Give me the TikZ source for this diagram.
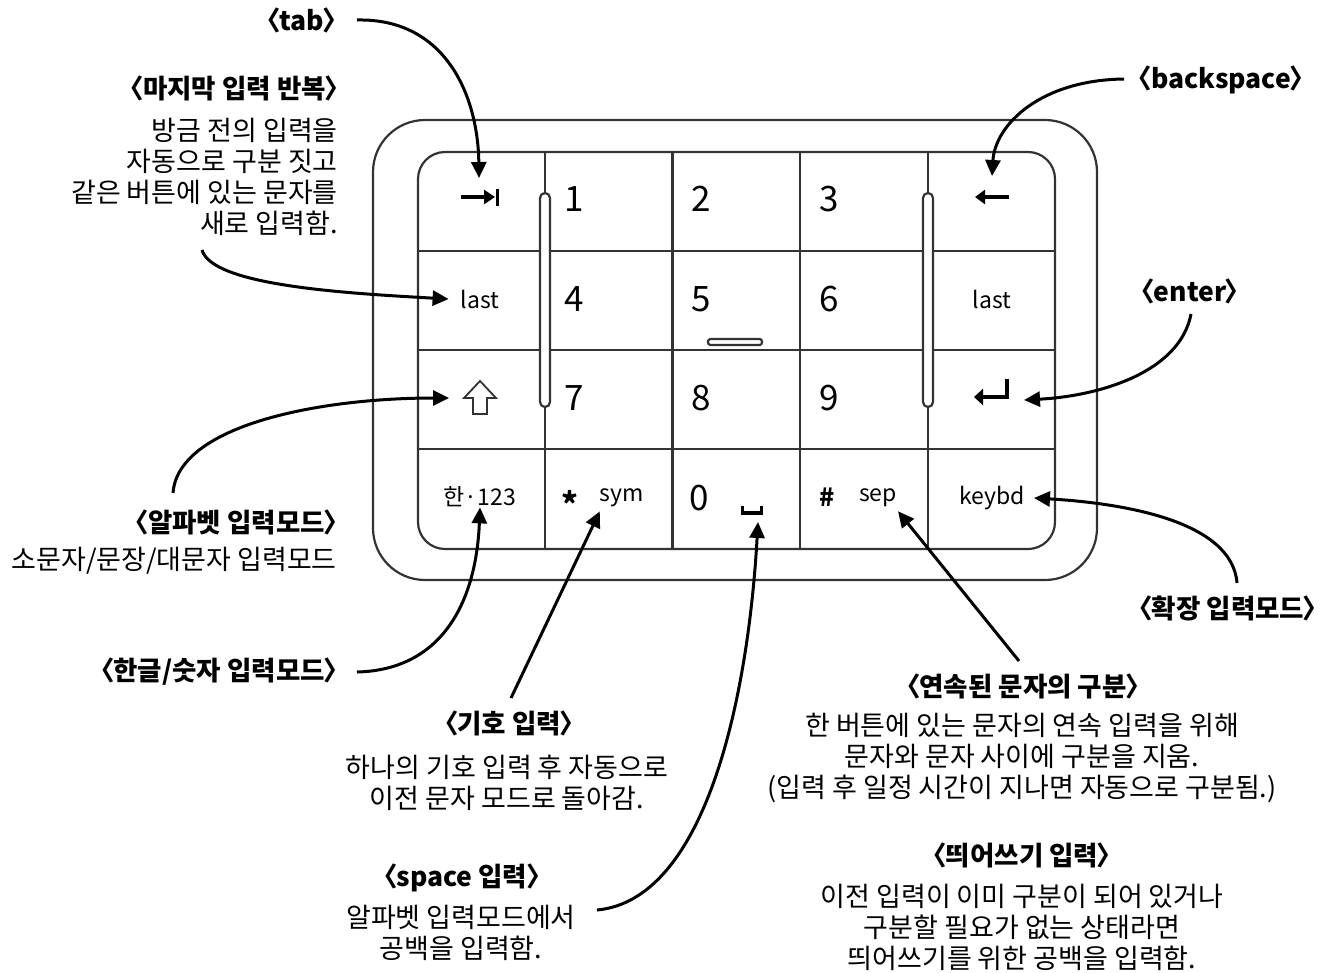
\documentclass[tikz,border=0pt]{standalone}
\usepackage{fontspec}
\setmainfont{Noto Sans CJK KR}
\usepackage{xcolor}
\definecolor{kbFrame}{HTML}{333333}
\usepackage{tikz}
\usetikzlibrary{arrows.meta}
\tikzset{frame/.style={draw=kbFrame, line width=2.2pt}}
\tikzset{capsule/.style={frame, fill=white, rounded corners=5pt}}
\tikzset{digit/.style={font=\fontsize{35}{35}\selectfont, anchor=west, inner sep=0pt}}
\tikzset{keyname/.style={font=\fontsize{23}{23}\selectfont, inner sep=0pt}}
\tikzset{keymark/.style={line width=3.5pt, line cap=butt}}
\tikzset{heading/.style={font=\bfseries\fontsize{26.5}{26.5}\selectfont, inner sep=0pt}}
\tikzset{note/.style={font=\fontsize{27}{31}\selectfont, inner sep=0pt}}
\tikzset{callout/.style={-{Triangle[length=16pt,width=15pt]}, line width=3pt}}
\newcommand{\tagname}[1]{\kern-0.5em〈\kern-0.05em#1\kern-0.05em〉\kern-0.5em}

\begin{document}
\begin{tikzpicture}[x=1pt, y=-1pt]
\useasboundingbox (0,0) rectangle (1332,972);
%--------------------
% the keypad
%--------------------
\draw[frame, rounded corners=52pt] (373,120) rectangle (1097,580);
\draw[frame, rounded corners=27pt] (418,152) rectangle (1055,549);
\foreach \x in {545,672.5,800,928} \draw[frame] (\x,152) -- (\x,549);
\foreach \y in {251,350,449} \draw[frame] (418,\y) -- (1055,\y);
\draw[capsule] (540,193) rectangle (550,407);
\draw[capsule] (923,193) rectangle (933,407);
\draw[capsule, rounded corners=2.5pt] (708,339) rectangle (762,345);

% digits
\node[digit](d1) at (564,199){1};
\node[digit](d2) at (691,199){2};
\node[digit](d3) at (819,199){3};
\node[digit](d4) at (564,299){4};
\node[digit](d5) at (691,299){5};
\node[digit](d6) at (819,299){6};
\node[digit](d7) at (564,398){7};
\node[digit](d8) at (691,398){8};
\node[digit](d9) at (819,398){9};
\node[digit](d0) at (689,498){0};

% side keys
\coordinate (tabkey) at (479,178);
\draw[keymark, -{Triangle[length=11pt,width=14pt]}] (461,197) -- (495,197);
\draw[keymark] (497.5,189) -- (497.5,206);
\coordinate (bskey) at (992,176);
\draw[keymark, -{Triangle[length=10pt,width=14pt]}] (1009,197) -- (975,197);
\node[keyname](lastL) at (480,299){last};
\node[keyname](lastR) at (992,299){last};
\coordinate (shiftkey) at (449,398);
\draw[frame, line width=1.8pt, line join=miter] (480,381) -- (496,398) -- (487,398) -- (487,414) -- (473,414) -- (473,398) -- (464,398) -- cycle;
\coordinate (enterkey) at (1024,400);
\draw[keymark, line width=4pt, -{Triangle[length=9pt,width=16pt]}] (1007,379) -- (1007,397) -- (974,397);

% bottom row
\node[keyname](hankey) at (480,497){한·123};
\node[keyname, font=\bfseries\fontsize{32}{32}\selectfont](star) at (570,503){*};
\node[keyname](sym) at (622,498){sym};
\coordinate (spacekey) at (758,522);
\draw[line width=2.5pt] (742.5,506) -- (742.5,513.5) -- (761.5,513.5) -- (761.5,506);
\draw[line width=4pt] (741,512.5) -- (763,512.5);
\node[keyname, font=\bfseries\fontsize{25}{25}\selectfont](hash) at (827,497){\#};
\node[keyname](sep) at (878,498){sep};
\node[keyname](keybd) at (992,498){keybd};

%--------------------
% left side
%--------------------
\node[heading, anchor=east](tab) at (336,20){\tagname{tab}};
\draw[callout] (357,20) .. controls (445,18) and (478,95) .. (tabkey);

\node[heading, anchor=east](repeat) at (338,88){\tagname{마지막 입력 반복}};
\node[note, anchor=north east, align=right](repeatnote) at (338,118){방금 전의 입력을\\자동으로 구분 짓고\\같은 버튼에 있는 문자를\\새로 입력함.};
\draw[callout] (202,250) .. controls (212,285) and (340,293) .. ([xshift=-12pt]lastL.west);

\node[heading, anchor=east](alpha) at (337,522){\tagname{알파벳 입력모드}};
\node[note, anchor=east](alphanote) at (337,561){소문자/문장/대문자 입력모드};
\draw[callout] (173,493) .. controls (178,425) and (320,398) .. (shiftkey);

\node[heading, anchor=east](hangul) at (337,672){\tagname{한글/숫자 입력모드}};
\draw[callout] (357,672) .. controls (440,670) and (476,605) .. (hankey.south);

%--------------------
% bottom side
%--------------------
\node[heading](symbol) at (509,723){\tagname{기호 입력}};
\node[note, anchor=north, align=center](symbolnote) at (507,755){하나의 기호 입력 후 자동으로\\이전 문자 모드로 돌아감.};
\draw[callout] (511,698) -- ([yshift=-4pt]sym.south west);

\node[heading](space) at (462,878){\tagname{space 입력}};
\node[note, anchor=north, align=center](spacenote) at (461,905){알파벳 입력모드에서\\공백을 입력함.};
\draw[callout] (597,910) .. controls (705,900) and (748,700) .. (spacekey);

%--------------------
% right side
%--------------------
\node[heading](bs) at (1221,80){\tagname{backspace}};
\draw[callout] (1124,79) .. controls (1040,80) and (995,125) .. (bskey);

\node[heading](enter) at (1190,291){\tagname{enter}};
\draw[callout] (1191,314) .. controls (1180,372) and (1100,396) .. (enterkey);

\node[heading](ext) at (1228,608){\tagname{확장 입력모드}};
\draw[callout] (1237,583) .. controls (1232,520) and (1120,503) .. ([xshift=9pt]keybd.east);

\node[heading](sepa) at (1023,686){\tagname{연속된 문자의 구분}};
\node[note, anchor=north, align=center](sepanote) at (1022,713){한 버튼에 있는 문자의 연속 입력을 위해\\문자와 문자 사이에 구분을 지움.\\(입력 후 일정 시간이 지나면 자동으로 구분됨.)};
\draw[callout] (1019,661) -- ([xshift=20pt,yshift=-4pt]sep.south);

\node[heading](blank) at (1022,855){\tagname{띄어쓰기 입력}};
\node[note, anchor=north, align=center](blanknote) at (1022,884){이전 입력이 이미 구분이 되어 있거나\\구분할 필요가 없는 상태라면\\띄어쓰기를 위한 공백을 입력함.};
\end{tikzpicture}
\end{document}
